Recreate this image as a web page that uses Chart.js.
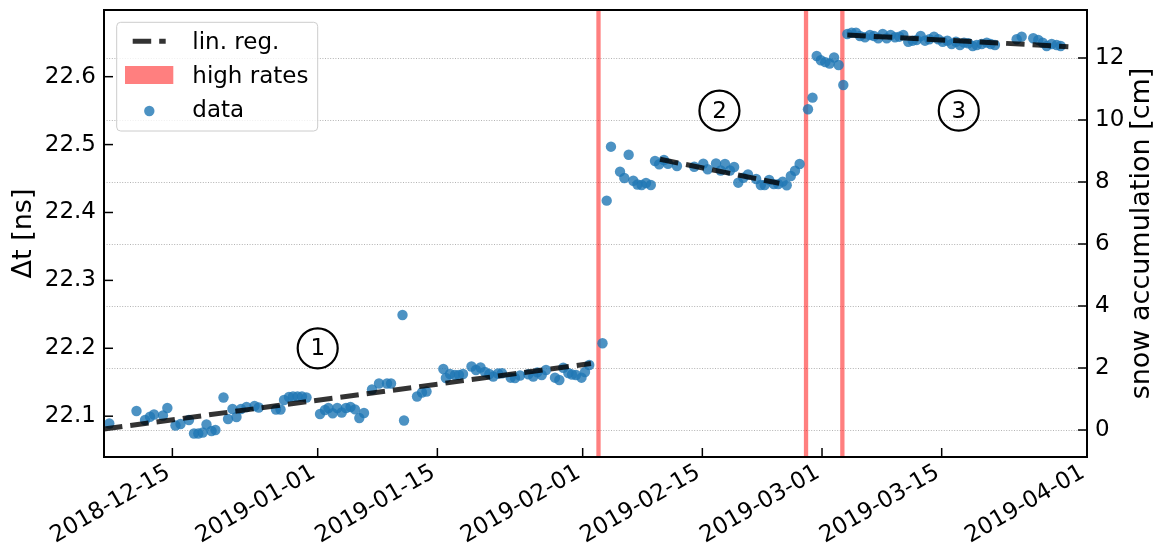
<!DOCTYPE html>
<html><head><meta charset="utf-8">
<script src="https://cdn.jsdelivr.net/npm/chart.js@4.4.1/dist/chart.umd.min.js"></script>
<style>html,body{margin:0;padding:0;background:#fff;}canvas{display:block;}</style>
</head><body>
<canvas id="c" width="1164" height="559"></canvas>
<script>
// all "day" values are days since 2018-12-01 00:00 UTC
const T0 = Date.UTC(2018, 11, 1);
const xTickLabels = ['2018-12-15','2019-01-01','2019-01-15','2019-02-01','2019-02-15','2019-03-01','2019-03-15','2019-04-01'];
const leftTicks = [22.1, 22.2, 22.3, 22.4, 22.5, 22.6];
const rightTicks = [0, 2, 4, 6, 8, 10, 12];
const xRange = [6, 121];
const leftRange = [22.0399, 22.6982];
const rightRange = [-0.871, 13.548];
const leftTitle = 'Δt [ns]';
const rightTitle = 'snow accumulation [cm]';

const dataDays = [
 6.62, 9.80, 10.80, 11.38, 11.85, 12.90, 13.41, 14.36, 14.95, 15.94,
 16.53, 17.03, 17.55, 17.99, 18.58, 19.04, 19.98, 20.51, 21.03, 21.50,
 22.03, 22.67, 23.61, 24.10, 26.12, 26.65, 27.06, 27.64, 28.11, 28.64,
 29.16, 29.69, 31.27, 31.85, 32.26, 32.75, 33.29, 33.81, 34.31, 34.84,
 35.36, 35.87, 36.42, 37.35, 38.17, 39.11, 39.58, 40.92, 41.10, 42.62,
 43.20, 43.73, 45.70, 46.00, 46.48, 47.06, 47.53, 48.00, 48.99, 49.52,
 50.05, 50.57, 51.08, 51.54, 52.09, 52.56, 53.58, 54.08, 54.67, 55.64,
 56.22, 56.69, 57.21, 57.71, 58.76, 59.27, 59.73, 60.32, 60.75, 61.22,
 61.86, 62.27, 62.77, 64.32,
 64.81, 65.31, 66.37, 66.87, 67.38, 67.92, 68.41, 68.90, 69.41, 69.97,
 70.46, 70.95, 71.51, 71.98, 73.03, 75.05, 76.11, 76.62, 77.60, 78.15,
 78.65, 79.23, 79.72, 80.20, 80.79, 81.34, 82.30, 82.84, 83.29, 83.82,
 84.36, 84.88, 85.40, 85.87, 86.35, 86.84, 87.38, 88.36, 88.89, 89.38,
 89.86, 90.38, 90.89, 91.41, 91.94, 92.49,
 92.96, 93.47, 93.98, 94.44, 95.03, 95.61, 96.08, 96.58, 97.10, 97.57,
 98.03, 98.54, 99.04, 99.51, 100.09, 100.61, 101.08, 101.54, 102.05, 102.55,
 103.10, 103.60, 104.12, 104.66, 105.17, 105.67, 106.14, 106.61, 107.11, 107.63,
 108.10, 108.68, 109.27, 109.73, 110.23, 112.77, 113.36, 114.71, 115.30, 115.82,
 116.28, 116.87, 117.45, 117.92
];
const dataDt = [
 22.0892, 22.1076, 22.0944, 22.0992, 22.1025, 22.1010, 22.1121, 22.0863, 22.0885, 22.0944,
 22.0745, 22.0745, 22.0760, 22.0878, 22.0782, 22.0797, 22.1275, 22.0959, 22.1106, 22.0988,
 22.1106, 22.1135, 22.1150, 22.1128, 22.1099, 22.1099, 22.1238, 22.1283, 22.1290, 22.1290,
 22.1290, 22.1275, 22.1032, 22.1091, 22.1121, 22.1043, 22.1121, 22.1054, 22.1121, 22.1135,
 22.1101, 22.0973, 22.1047, 22.1393, 22.1481, 22.1481, 22.1481, 22.2490, 22.0937, 22.1290,
 22.1349, 22.1364, 22.1695, 22.1562, 22.1621, 22.1607, 22.1607, 22.1621, 22.1732, 22.1680,
 22.1717, 22.1651, 22.1621, 22.1585, 22.1629, 22.1632, 22.1567, 22.1562, 22.1599, 22.1617,
 22.1585, 22.1646, 22.1607, 22.1680, 22.1567, 22.1533, 22.1714, 22.1636, 22.1614, 22.1607,
 22.1567, 22.1651, 22.1754, 22.2074,
 22.4174, 22.4969, 22.4601, 22.4508, 22.4851, 22.4468, 22.4412, 22.4405, 22.4434, 22.4405,
 22.4758, 22.4710, 22.4773, 22.4717, 22.4685, 22.4674, 22.4720, 22.4636, 22.4722, 22.4619,
 22.4714, 22.4619, 22.4670, 22.4439, 22.4511, 22.4560, 22.4493, 22.4405, 22.4405, 22.4479,
 22.4417, 22.4417, 22.4454, 22.4401, 22.4538, 22.4614, 22.4714, 22.5520, 22.5691, 22.6305,
 22.6242, 22.6214, 22.6193, 22.6283, 22.6172, 22.5878,
 22.6629, 22.6648, 22.6648, 22.6599, 22.6580, 22.6614, 22.6599, 22.6566, 22.6629, 22.6566,
 22.6614, 22.6580, 22.6589, 22.6614, 22.6515, 22.6530, 22.6541, 22.6599, 22.6530, 22.6551,
 22.6589, 22.6551, 22.6515, 22.6530, 22.6482, 22.6515, 22.6467, 22.6501, 22.6492, 22.6452,
 22.6467, 22.6482, 22.6501, 22.6482, 22.6467, 22.6551, 22.6589, 22.6566, 22.6541, 22.6501,
 22.6452, 22.6482, 22.6467, 22.6452
];
// linear regressions: [start day, end day] and [start value, end value]
const regDays = [[6.0, 62.97], [71.05, 85.0], [92.96, 118.82]];
const regDt = [[22.0812, 22.1775], [22.4783, 22.4430], [22.6614, 22.6442]];
const highRateDays = [63.85, 88.13, 92.38];
const annoDays = [31.0, 78.0, 106.0];
const annoDt = [22.2, 22.55, 22.55];
const annoLabels = ['1', '2', '3'];
const legendLabels = ['lin. reg.', 'high rates', 'data'];

function dayOf(s) {
  const p = s.split('-').map(Number);
  return (Date.UTC(p[0], p[1] - 1, p[2]) - T0) / 86400000;
}

const FONT = '"DejaVu Sans", sans-serif';
Chart.defaults.font.family = FONT;
Chart.defaults.font.size = 23;
Chart.defaults.color = '#000';

const REG_COLOR = 'rgba(0,0,0,0.8)';
const HR_COLOR = 'rgba(255,0,0,0.5)';
const PT_COLOR = 'rgba(31,119,180,0.8)';

const datasets = [];
regDays.forEach((d, i) => datasets.push({
  type: 'line', label: legendLabels[0],
  data: [{x: d[0], y: regDt[i][0]}, {x: d[1], y: regDt[i][1]}],
  borderColor: REG_COLOR, borderWidth: 5, borderDash: [18.5, 8], borderCapStyle: 'butt',
  pointRadius: 0, fill: false, order: 0, yAxisID: 'y'
}));
datasets.push({
  type: 'scatter', label: legendLabels[2],
  data: dataDays.map((d, i) => ({x: d, y: dataDt[i]})),
  pointBackgroundColor: PT_COLOR, backgroundColor: PT_COLOR, pointBorderWidth: 0, borderWidth: 0,
  pointRadius: 5.2, pointHoverRadius: 5.2, order: 1, yAxisID: 'y'
});
highRateDays.forEach(d => datasets.push({
  type: 'line', label: legendLabels[1],
  data: [{x: d, y: leftRange[0]}, {x: d, y: leftRange[1]}],
  borderColor: HR_COLOR, borderWidth: 4.3, pointRadius: 0, fill: false, order: 2, yAxisID: 'y'
}));
datasets.push({
  type: 'scatter', label: 'annotations',
  data: annoDays.map((d, i) => ({x: d, y: annoDt[i]})),
  pointRadius: 20, pointHoverRadius: 20, pointBorderColor: '#000', pointBorderWidth: 2.2,
  pointBackgroundColor: 'rgba(255,255,255,0)', order: 3, yAxisID: 'y'
});

const deco = {
  id: 'deco',
  beforeDatasetsDraw(chart) {
    const {ctx, chartArea: a} = chart;
    const y2 = chart.scales.y2;
    ctx.save();
    ctx.strokeStyle = '#b3b3b3';
    ctx.lineWidth = 1;
    ctx.setLineDash([1, 1.6]);
    rightTicks.forEach(v => {
      const py = Math.round(y2.getPixelForValue(v)) + 0.5;
      ctx.beginPath(); ctx.moveTo(a.left, py); ctx.lineTo(a.right, py); ctx.stroke();
    });
    ctx.restore();
  },
  afterDatasetsDraw(chart) {
    const {ctx, chartArea: a} = chart;
    const xs = chart.scales.x, ys = chart.scales.y, y2 = chart.scales.y2;
    ctx.save();
    // inward ticks
    ctx.strokeStyle = '#000'; ctx.lineWidth = 1.5; ctx.setLineDash([]);
    leftTicks.forEach(v => { const p = ys.getPixelForValue(v); ctx.beginPath(); ctx.moveTo(a.left, p); ctx.lineTo(a.left + 9, p); ctx.stroke(); });
    rightTicks.forEach(v => { const p = y2.getPixelForValue(v); ctx.beginPath(); ctx.moveTo(a.right, p); ctx.lineTo(a.right - 9, p); ctx.stroke(); });
    xTickLabels.forEach(s => { const p = xs.getPixelForValue(dayOf(s)); ctx.beginPath(); ctx.moveTo(p, a.bottom); ctx.lineTo(p, a.bottom - 9); ctx.stroke(); });
    // frame
    ctx.lineWidth = 2;
    ctx.strokeRect(a.left, a.top, a.right - a.left, a.bottom - a.top);
    // annotation digits
    ctx.fillStyle = '#000';
    ctx.font = '23px ' + FONT;
    ctx.textAlign = 'center'; ctx.textBaseline = 'middle';
    annoDays.forEach((d, i) => ctx.fillText(annoLabels[i], xs.getPixelForValue(d), ys.getPixelForValue(annoDt[i]) + 1));
    // legend
    const lx = a.left + 12.7, ly = a.top + 12.3, lw = 201, lh = 108.7, r = 4;
    ctx.beginPath();
    ctx.moveTo(lx + r, ly); ctx.lineTo(lx + lw - r, ly); ctx.arcTo(lx + lw, ly, lx + lw, ly + r, r);
    ctx.lineTo(lx + lw, ly + lh - r); ctx.arcTo(lx + lw, ly + lh, lx + lw - r, ly + lh, r);
    ctx.lineTo(lx + r, ly + lh); ctx.arcTo(lx, ly + lh, lx, ly + lh - r, r);
    ctx.lineTo(lx, ly + r); ctx.arcTo(lx, ly, lx + r, ly, r); ctx.closePath();
    ctx.fillStyle = 'rgba(255,255,255,0.8)'; ctx.fill();
    ctx.strokeStyle = '#cccccc'; ctx.lineWidth = 1; ctx.stroke();
    // handle 1: dashed line
    ctx.strokeStyle = REG_COLOR; ctx.lineWidth = 5; ctx.setLineDash([18.5, 8]); ctx.lineCap = 'butt';
    ctx.beginPath(); ctx.moveTo(lx + 16, ly + 19); ctx.lineTo(lx + 49, ly + 19); ctx.stroke();
    ctx.setLineDash([]);
    // handle 2: patch
    ctx.fillStyle = HR_COLOR; ctx.fillRect(lx + 8.3, ly + 43.7, 48.3, 18);
    // handle 3: dot
    ctx.fillStyle = PT_COLOR; ctx.beginPath(); ctx.arc(lx + 32.6, ly + 88.7, 5.2, 0, Math.PI * 2); ctx.fill();
    ctx.fillStyle = '#000'; ctx.textAlign = 'left'; ctx.textBaseline = 'alphabetic';
    ctx.font = '23px ' + FONT;
    ctx.fillText(legendLabels[0], lx + 75.6, ly + 26.7);
    ctx.fillText(legendLabels[1], lx + 75.6, ly + 60.5);
    ctx.fillText(legendLabels[2], lx + 75.6, ly + 94.4);
    // axis titles
    const cy = (a.top + a.bottom) / 2;
    ctx.font = '27px ' + FONT; ctx.textAlign = 'center'; ctx.textBaseline = 'middle';
    ctx.save(); ctx.translate(24, cy); ctx.rotate(-Math.PI / 2); ctx.fillText(leftTitle, 0, 0); ctx.restore();
    ctx.save(); ctx.translate(1142, cy); ctx.rotate(-Math.PI / 2); ctx.fillText(rightTitle, 0, 0); ctx.restore();
    ctx.restore();
  }
};

new Chart(document.getElementById('c'), {
  type: 'scatter',
  data: {datasets},
  options: {
    responsive: false, animation: false, devicePixelRatio: 1, events: [],
    layout: {autoPadding: false, padding: {top: 10, left: 0, right: 0, bottom: 0}},
    plugins: {legend: {display: false}, tooltip: {enabled: false}},
    scales: {
      x: {
        type: 'linear', position: 'bottom', min: xRange[0], max: xRange[1],
        grid: {display: false, drawTicks: false}, border: {display: false},
        ticks: {autoSkip: false, maxRotation: 30, minRotation: 30, padding: 2, labelOffset: -4,
          callback: (v, i) => xTickLabels[i]},
        afterBuildTicks: s => { s.ticks = xTickLabels.map(l => ({value: dayOf(l)})); },
        afterFit: s => { s.height = 102; s.paddingLeft = 0; s.paddingRight = 0; }
      },
      y: {
        type: 'linear', position: 'left', min: leftRange[0], max: leftRange[1],
        grid: {display: false, drawTicks: false}, border: {display: false},
        ticks: {padding: 8, callback: v => v.toFixed(1)},
        afterBuildTicks: s => { s.ticks = leftTicks.map(v => ({value: v})); },
        afterFit: s => { s.width = 104; s.paddingTop = 0; s.paddingBottom = 0; }
      },
      y2: {
        type: 'linear', position: 'right', min: rightRange[0], max: rightRange[1],
        grid: {display: false, drawTicks: false}, border: {display: false},
        ticks: {padding: 8, callback: v => String(v)},
        afterBuildTicks: s => { s.ticks = rightTicks.map(v => ({value: v})); },
        afterFit: s => { s.width = 77; s.paddingTop = 0; s.paddingBottom = 0; }
      }
    }
  },
  plugins: [deco]
});
</script>
</body></html>
